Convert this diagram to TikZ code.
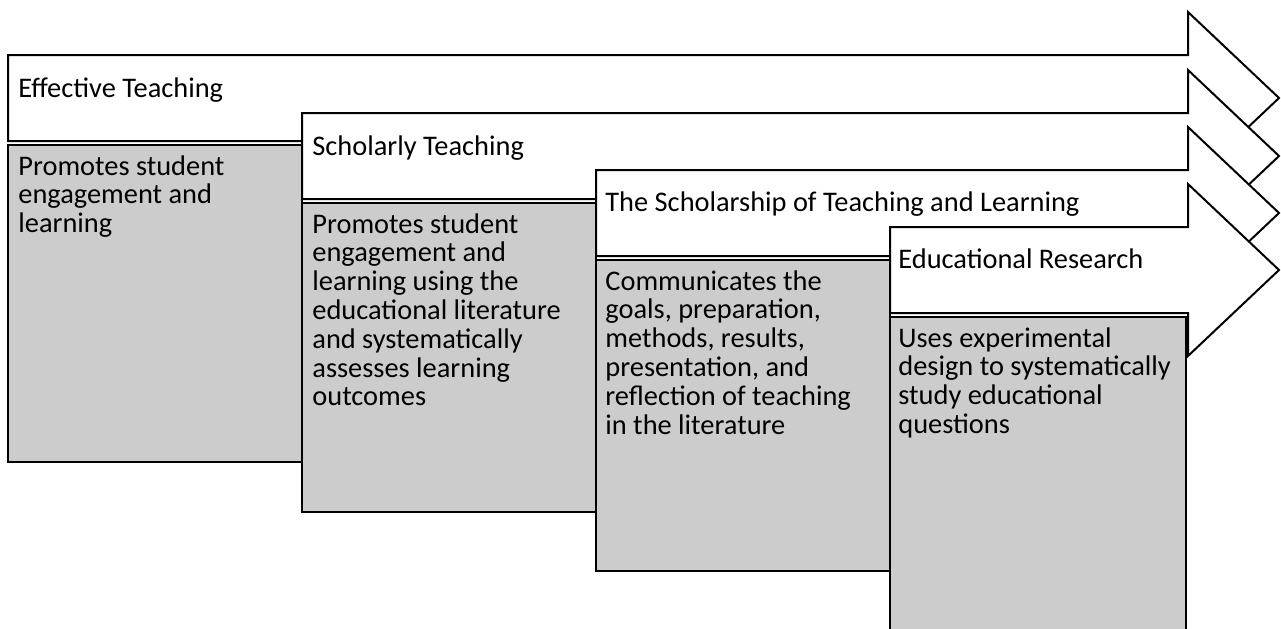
\documentclass[tikz,border=0pt]{standalone}
\usepackage{fontspec}
\setmainfont{Carlito}
\usetikzlibrary{positioning}

\begin{document}
\begin{tikzpicture}[x=0.5pt, y=-0.5pt,
    stagearrow/.style={draw=black, fill=white, line width=1pt, line join=miter},
    descbox/.style={draw=black, fill=boxgray, line width=1pt},
    stagelabel/.style={anchor=base west, inner sep=0pt, font=\fontsize{14.2}{14.4}\selectfont},
    desctext/.style={anchor=north west, inner sep=0pt, align=left, font=\fontsize{14.2}{14.4}\selectfont}]
  \definecolor{boxgray}{RGB}{204,204,204}
  \useasboundingbox (0,0) rectangle (1281,628);
  \clip (0,0) rectangle (1281,628);

  % Effective Teaching
  \draw[stagearrow] (8,55) -- (1188,55) -- (1188,12) -- (1279,98) -- (1188,184) -- (1188,141) -- (8,141) -- cycle;
  \node[stagelabel] (effective) at (18,97) {Effective Teaching};
  \draw[descbox] (8,145) rectangle (302,462);
  \node[desctext] (effectivedesc) at (18,155) {Promotes student\\engagement and\\learning};

  % Scholarly Teaching
  \draw[stagearrow] (302,113) -- (1188,113) -- (1188,70) -- (1279,156) -- (1188,242) -- (1188,199) -- (302,199) -- cycle;
  \node[stagelabel] (scholarly) at (312,155) {Scholarly Teaching};
  \draw[descbox] (302,203) rectangle (596,512);
  \node[desctext] (scholarlydesc) at (312,213) {Promotes student\\engagement and\\learning using the\\educational literature\\and systematically\\assesses learning\\outcomes};

  % The Scholarship of Teaching and Learning
  \draw[stagearrow] (596,170) -- (1188,170) -- (1188,127) -- (1279,213) -- (1188,299) -- (1188,256) -- (596,256) -- cycle;
  \node[stagelabel] (sotl) at (605,211) {The Scholarship of Teaching and Learning};
  \draw[descbox] (596,260) rectangle (890,571);
  \node[desctext] (sotldesc) at (605,270) {Communicates the\\goals, preparation,\\methods, results,\\presentation, and\\reflection of teaching\\in the literature};

  % Educational Research
  \draw[stagearrow] (890,227) -- (1188,227) -- (1188,184) -- (1279,270) -- (1188,356) -- (1188,313) -- (890,313) -- cycle;
  \node[stagelabel] (research) at (898,268) {Educational Research};
  \draw[descbox] (890,317) rectangle (1186,640);
  \node[desctext] (researchdesc) at (898,327) {Uses experimental\\design to systematically\\study educational\\questions};
\end{tikzpicture}
\end{document}
